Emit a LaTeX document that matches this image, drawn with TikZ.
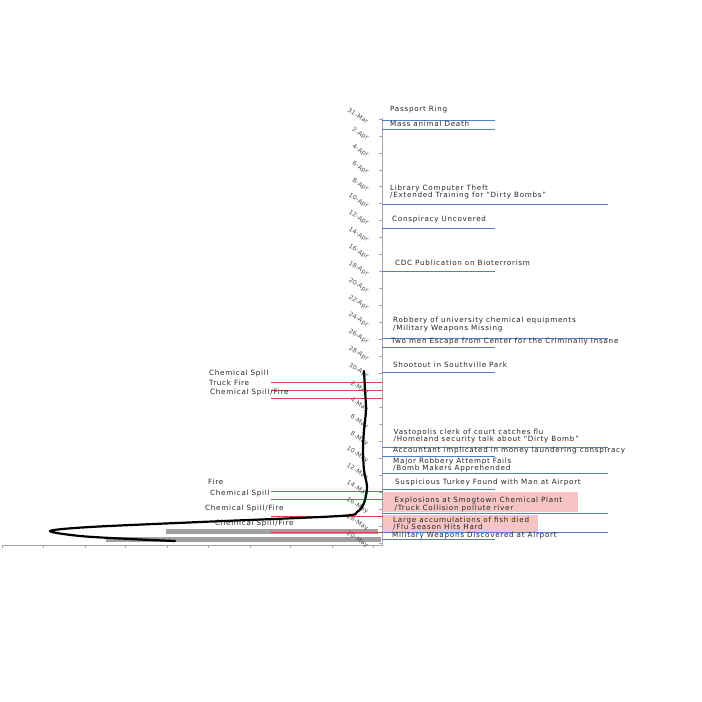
\documentclass[tikz,border=0pt]{standalone}
\usepackage{fontspec}
\setmainfont{DejaVu Sans}[LetterSpace=10]
\newfontfamily\datefont{DejaVu Sans}[LetterSpace=4]
\definecolor{evblue}{RGB}{79,129,200}
\definecolor{evred}{RGB}{210,70,70}
\definecolor{evpink}{RGB}{246,196,196}
\definecolor{axisgray}{RGB}{165,165,165}
\definecolor{bargray}{RGB}{160,160,160}
\tikzset{
  evtext/.style={anchor=west,inner sep=0pt,align=left,font=\fontsize{7.2}{7.6}\selectfont,text=black!85},
  lefttext/.style={anchor=west,inner sep=0pt,font=\fontsize{7.2}{7}\selectfont,text=black!85},
  datelbl/.style={anchor=east,inner sep=0pt,rotate=-32,font=\datefont\fontsize{6.2}{6}\selectfont,text=black!70},
  bluel/.style={draw=evblue,line width=0.9pt},
  redl/.style={draw=evred,line width=0.9pt},
  axisl/.style={draw=axisgray,line width=0.7pt},
  trend/.style={draw=black,line width=2.2pt,line cap=round,line join=round},
}
\begin{document}
\begin{tikzpicture}[x=1pt,y=-1pt]
\useasboundingbox[fill=white] (0,0) rectangle (702,702);
% gray bars
\fill[bargray] (166,529) rectangle (378,534);
\fill[bargray] (106,537) rectangle (381,542);
% pink boxes
\fill[evpink] (383,492) rectangle (578,512);
\fill[evpink] (383,515) rectangle (538,532);
% axes
\coordinate (ytop) at (382,118);
\coordinate (origin) at (382,545);
\coordinate (xleft) at (3,545);
\draw[axisl] (ytop) -- (origin) -- (xleft);
\foreach \k in {0,...,25} {
  \draw[axisl] ({382},{119+16.96*\k}) -- ({379},{119+16.96*\k});
}
\foreach \x in {2,43,85,125,167,208,250,290,332,373} {
  \draw[axisl] (\x,545) -- (\x,548);
}
% date labels
\foreach \lbl [count=\k from 0] in {31-Mar,2-Apr,4-Apr,6-Apr,8-Apr,10-Apr,12-Apr,14-Apr,16-Apr,18-Apr,20-Apr,22-Apr,24-Apr,26-Apr,28-Apr,30-Apr,2-May,4-May,6-May,8-May,10-May,12-May,14-May,16-May,18-May,20-May} {
  \node[datelbl] (d\k) at ({368},{122+16.96*\k}) {\lbl};
}
% red lines (left events)
\foreach \yy/\n in {382/a,390/b,398/c,491/d,499/e,516/f,532/g} {
  \coordinate (rl\n) at (271,\yy);
  \coordinate (rr\n) at (383,\yy);
  \draw[redl] (rl\n) -- (rr\n);
}
% blue lines (right events)
\foreach \yy/\xe/\n in {120/495/a,129/495/b,204/608/c,228/495/d,271/495/e,338/608/f,347/495/g,372/495/h,447/608/i,456/495/j,473/608/k,489/495/l,513/608/m,532/608/n,539/495/o} {
  \coordinate (bl\n) at (382,\yy);
  \coordinate (br\n) at (\xe,\yy);
  \draw[bluel] (bl\n) -- (br\n);
}
% trend curve
\draw[trend] plot[smooth,tension=0.5] coordinates {(364,371) (365,390) (366,410) (364,430) (363,450) (364,470) (367,487) (364,503) (357,512) (340,516) (200,522) (90,527) (50,531) (80,536) (130,539) (175,541)};
% right texts
\node[evtext] (e1) at (390,110) {Passport Ring};
\node[evtext] (e2) at (390,124) {Mass animal Death};
\node[evtext] (e3) at (390,192) {Library Computer Theft\\/Extended Training for “Dirty Bombs”};
\node[evtext] (e5) at (392,220) {Conspiracy Uncovered};
\node[evtext] (e6) at (395,263) {CDC Publication on Bioterrorism};
\node[evtext] (e7) at (393,324.5) {Robbery of university chemical equipments\\/Military Weapons Missing};
\node[evtext] (e9) at (391,342) {Two men Escape from Center for the Criminally Insane};
\node[evtext] (e10) at (393,365) {Shootout in Southville Park};
\node[evtext] (e11) at (393.5,436) {Vastopolis clerk of court catches flu\\/Homeland security talk about “Dirty Bomb”};
\node[evtext] (e13) at (393,450.5) {Accountant implicated in money laundering conspiracy};
\node[evtext] (e14) at (393,465) {Major Robbery Attempt Fails\\/Bomb Makers Apprehended};
\node[evtext] (e16) at (395,483) {Suspicious Turkey Found with Man at Airport};
\node[evtext] (e17) at (394.5,504.5) {Explosions at Smogtown Chemical Plant\\/Truck Collision pollute river};
\node[evtext] (e19) at (393,523.5) {Large accumulations of fish died\\/Flu Season Hits Hard};
\node[evtext] (e21) at (392,535.5) {Military Weapons Discovered at Airport};
% left texts
\node[lefttext] (l1) at (209,374) {Chemical Spill};
\node[lefttext] (l2) at (209,383) {Truck Fire};
\node[lefttext] (l3) at (210,393) {Chemical Spill/Fire};
\node[lefttext] (l4) at (208,482) {Fire};
\node[lefttext] (l5) at (210,494) {Chemical Spill};
\node[lefttext] (l6) at (205,509) {Chemical Spill/Fire};
\node[lefttext] (l7) at (215,524) {Chemical Spill/Fire};
\end{tikzpicture}
\end{document}
